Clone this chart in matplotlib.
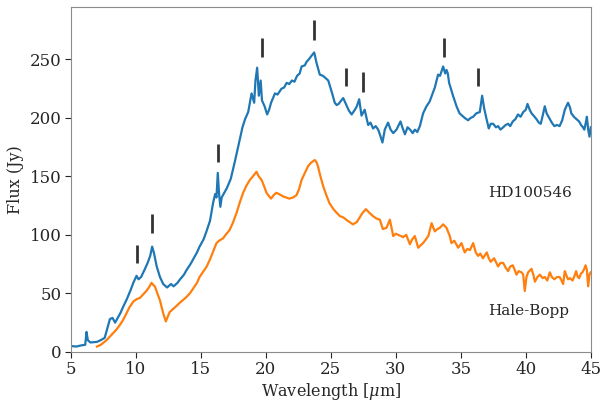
import matplotlib
matplotlib.use("Agg")
import matplotlib.pyplot as plt

plt.rcParams['font.family'] = ['DejaVu Serif']
plt.rcParams['mathtext.fontset'] = 'dejavuserif'

# HD100546 spectrum (blue)
blue_wl = [5.0, 5.4, 5.8, 6.1, 6.2, 6.3, 6.5, 7.0, 7.3, 7.6, 7.8, 8.0, 8.2, 8.4, 8.6, 8.8, 9.0, 9.3, 9.6, 9.8,
           10.05, 10.2, 10.4, 10.7, 10.9, 11.1, 11.25, 11.4, 11.6, 11.85, 12.1, 12.4, 12.7, 12.9, 13.2, 13.4, 13.7,
           13.9, 14.2, 14.4, 14.7, 14.9, 15.2, 15.4, 15.7, 15.95, 16.1, 16.2, 16.3, 16.4, 16.5, 16.6, 16.8, 17.0,
           17.3, 17.6, 17.8, 18.0, 18.2, 18.4, 18.64, 18.8, 18.9, 19.1, 19.2, 19.33, 19.46, 19.6, 19.7, 19.9, 20.1,
           20.25, 20.4, 20.7, 20.9, 21.2, 21.4, 21.6, 21.8, 22.0, 22.2, 22.4, 22.6, 22.75, 23.0, 23.13, 23.3, 23.5,
           23.72, 23.9, 24.15, 24.4, 24.6, 24.8, 25.1, 25.3, 25.45, 25.6, 25.8, 25.95, 26.2, 26.4, 26.6, 26.85,
           27.0, 27.18, 27.36, 27.6, 27.87, 28.05, 28.25, 28.45, 28.64, 28.8, 28.97, 29.15, 29.4, 29.6, 29.8,
           30.05, 30.36, 30.5, 30.7, 30.9, 31.1, 31.3, 31.46, 31.65, 31.85, 32.1, 32.36, 32.6, 32.8, 33.0, 33.25,
           33.4, 33.64, 33.8, 33.9, 34.0, 34.1, 34.4, 34.67, 34.9, 35.1, 35.3, 35.56, 35.75, 35.95, 36.2, 36.46,
           36.64, 36.8, 36.98, 37.15, 37.3, 37.49, 37.7, 37.87, 38.05, 38.26, 38.45, 38.64, 38.8, 39.0, 39.2,
           39.4, 39.6, 39.8, 40.0, 40.13, 40.3, 40.44, 40.6, 40.82, 41.0, 41.15, 41.3, 41.46, 41.6, 41.85, 42.0,
           42.2, 42.4, 42.6, 42.8, 43.0, 43.25, 43.4, 43.5, 43.7, 43.9, 44.1, 44.25, 44.4, 44.5, 44.6, 44.7,
           44.8, 44.9, 45.0]
blue_fx = [5, 4.5, 5.5, 6, 17, 10, 8, 8.5, 10, 12, 20, 28, 29, 25, 29, 33, 38, 45, 53, 59,
           65, 62, 64, 71, 76, 82, 90, 84, 73, 64, 58, 55, 58, 56, 59, 62, 66,
           70, 75, 79, 85, 90, 96, 102, 112, 128, 135, 132, 153, 135, 124, 132, 136, 140,
           148, 162, 172, 182, 192, 199, 205, 215, 221, 213, 232, 243, 219, 232, 215, 210, 203,
           207, 213, 221, 220, 225, 226, 230, 229, 232, 231, 236, 238, 244, 245, 248, 250, 253,
           256, 247, 237, 236, 234, 232, 221, 213, 211, 212, 215, 217, 211, 206, 203, 207,
           210, 216, 202, 207, 194, 196, 191, 193, 190, 185, 179, 190, 196, 190, 187,
           190, 197, 192, 186, 192, 190, 187, 190, 188, 193, 204, 210, 214, 220, 226, 237,
           236, 244, 238, 241, 238, 230, 219, 210, 204, 202, 200, 198, 200, 201, 204, 205,
           219, 208, 199, 191, 195, 195, 192, 193, 190, 192, 194, 195, 193, 197, 199,
           203, 201, 205, 207, 212, 207, 204, 202, 199, 196, 195, 202, 210, 204, 199, 196,
           193, 194, 193, 198, 207, 213, 209, 204, 201, 199, 197, 194, 192, 190, 195, 201,
           190, 184, 192]

# Hale-Bopp spectrum (orange)
orange_wl = [7.0, 7.3, 7.74, 8.0, 8.25, 8.5, 8.77, 9.0, 9.28, 9.5, 9.8, 10.05, 10.3, 10.55, 10.8, 11.0, 11.2,
             11.35, 11.46, 11.65, 11.85, 12.1, 12.3, 12.45, 12.6, 12.9, 13.1, 13.38, 13.7, 13.9, 14.15, 14.4,
             14.7, 14.9, 15.2, 15.45, 15.7, 15.95, 16.2, 16.4, 16.7, 16.9, 17.2, 17.45, 17.75, 18.0, 18.25, 18.5,
             18.77, 19.0, 19.28, 19.45, 19.67, 19.85, 20.05, 20.25, 20.4, 20.6, 20.8, 21.0, 21.3, 21.55, 21.8,
             22.1, 22.36, 22.55, 22.75, 23.0, 23.26, 23.5, 23.77, 23.9, 24.0, 24.2, 24.4, 24.65, 24.9, 25.2,
             25.44, 25.7, 25.95, 26.3, 26.7, 27.0, 27.23, 27.45, 27.7, 27.95, 28.25, 28.5, 28.77, 29.0, 29.28,
             29.54, 29.8, 30.0, 30.18, 30.4, 30.56, 30.8, 31.08, 31.25, 31.46, 31.72, 31.9, 32.1, 32.3, 32.5,
             32.75, 33.0, 33.2, 33.38, 33.64, 33.9, 34.15, 34.28, 34.5, 34.8, 35.05, 35.3, 35.5, 35.7, 35.95,
             36.15, 36.33, 36.5, 36.7, 37.0, 37.15, 37.3, 37.56, 37.87, 38.05, 38.26, 38.45, 38.64, 38.8, 39.0,
             39.15, 39.28, 39.45, 39.67, 39.8, 39.92, 40.05, 40.18, 40.44, 40.6, 40.7, 40.9, 41.08, 41.3, 41.46,
             41.65, 41.85, 42.0, 42.2, 42.4, 42.6, 42.75, 42.87, 43.0, 43.1, 43.25, 43.4, 43.6, 43.75, 43.87,
             44.0, 44.1, 44.25, 44.36, 44.5, 44.6, 44.7, 44.8, 44.9, 45.0]
orange_fx = [4.5, 6, 10, 13, 16, 19, 23, 27, 33, 38, 43, 45, 46, 49, 52, 55, 59,
             57, 56, 50, 44, 33, 26, 30, 34, 37, 39, 42, 45, 47, 50, 54,
             59, 64, 69, 73, 79, 86, 93, 95, 97, 100, 104, 110, 119, 128, 136, 142,
             147, 150, 154, 150, 147, 142, 136, 133, 131, 134, 136, 135, 133, 132, 131,
             132, 134, 139, 147, 153, 159, 162, 164, 162, 159, 150, 142, 134, 127, 122,
             119, 116, 115, 112, 109, 111, 115, 119, 122, 119, 116, 114, 113, 105, 106,
             113, 99, 101, 100, 99, 98, 100, 92, 96, 99, 89, 91, 93, 96, 99,
             110, 103, 105, 106, 109, 106, 99, 93, 95, 89, 93, 85, 88, 87, 93,
             85, 82, 84, 80, 85, 80, 77, 80, 73, 76, 76, 72, 69, 73, 74,
             70, 66, 69, 68, 66, 52, 64, 68, 71, 65, 60, 64, 66, 63, 64,
             61, 68, 64, 62, 64, 64, 61, 58, 69, 66, 62, 63, 61, 65, 69,
             64, 63, 67, 68, 71, 74, 70, 56, 66, 68]

# feature markers
marker_x = [10.05, 11.24, 16.3, 19.72, 23.72, 26.13, 27.44, 33.67, 36.33]
marker_lo = [76, 102, 162, 252, 267, 227, 222, 252, 227]
marker_hi = [91, 118, 178, 268, 284, 243, 239, 268, 243]

labels = ["HD100546", "Hale-Bopp"]
label_x = [37.1, 37.1]
label_y = [136, 35]

x_ticks = [5, 10, 15, 20, 25, 30, 35, 40, 45]
y_ticks = [0, 50, 100, 150, 200, 250]

fig = plt.figure(figsize=(6.01, 4.03), dpi=100)
ax = fig.add_axes([0.118, 0.127, 0.865, 0.856])

ax.plot(blue_wl, blue_fx, color='#1f77b4', lw=1.6)
ax.plot(orange_wl, orange_fx, color='#ff7f0e', lw=1.6)
ax.vlines(marker_x, marker_lo, marker_hi, color='#333333', lw=2)

for t, x, y in zip(labels, label_x, label_y):
    ax.text(x, y, t, fontsize=11, va='center', ha='left', color='#262626')

ax.set_xlim(5, 45)
ax.set_ylim(0, 295)
ax.set_xticks(x_ticks)
ax.set_yticks(y_ticks)
ax.tick_params(labelsize=12, colors='#262626', length=4, pad=2.5)
for s in ax.spines.values():
    s.set_color('#8c8c8c')
ax.set_xlabel(r'Wavelength [$\mu$m]', fontsize=11.5, color='#262626', labelpad=2)
ax.set_ylabel('Flux (Jy)', fontsize=11.5, color='#262626', labelpad=4)

fig.savefig('out.png', dpi=100)
